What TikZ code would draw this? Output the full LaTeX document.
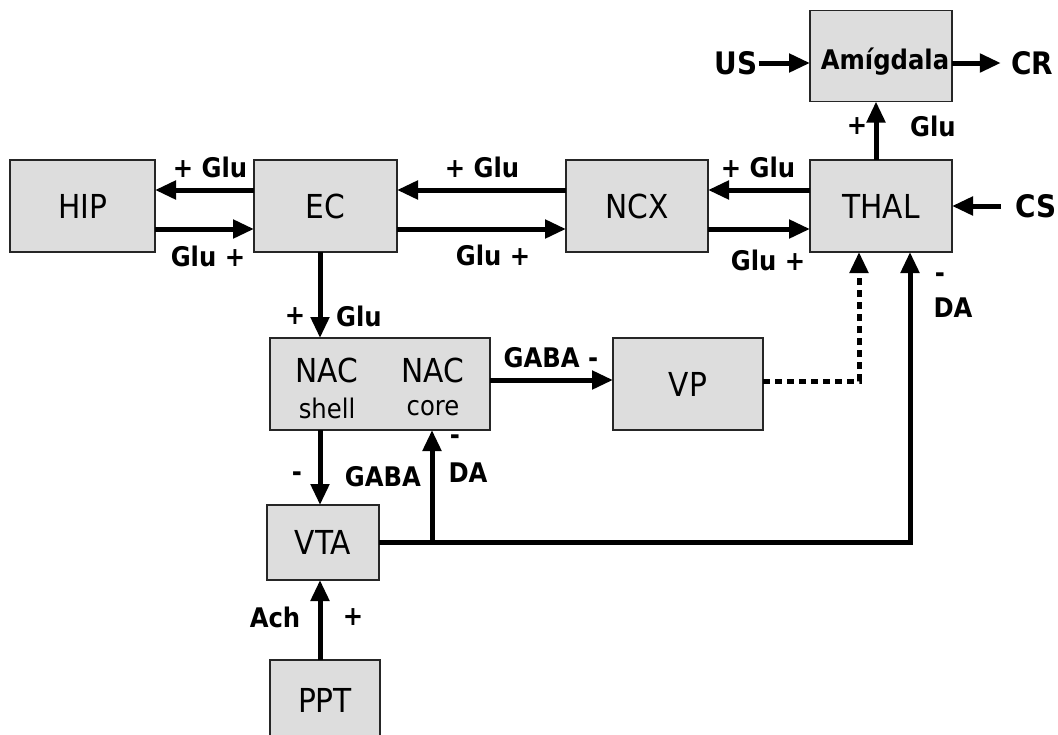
\documentclass[tikz,border=0pt]{standalone}
\usepackage{fontspec}
\setmainfont{DejaVu Sans Condensed}[BoldFont={DejaVu Sans Condensed Bold}]
\usetikzlibrary{arrows.meta}
\definecolor{boxgray}{HTML}{DDDDDD}
\tikzset{
  box/.style={draw=black!85, line width=1.5pt, fill=boxgray, inner sep=0pt, outer sep=0pt,
    font=\fontsize{33}{36}\selectfont, align=center},
  arr/.style={line width=5pt, -{Triangle[length=21pt,width=18pt]}},
  dotarr/.style={line width=5pt, dash pattern=on 7pt off 5pt, -{Triangle[length=21pt,width=18pt]}},
  lbl/.style={font=\fontsize{27}{30}\selectfont\bfseries, inner sep=0pt},
  biglbl/.style={font=\fontsize{31}{34}\selectfont\bfseries, inner sep=0pt}
}
\begin{document}
\begin{tikzpicture}[x=1pt,y=-1pt]
\useasboundingbox (0,0) rectangle (1058,734);
% boxes
\node[box, minimum width=145pt, minimum height=92pt] (hip) at (82.5,206) {HIP};
\node[box, minimum width=143pt, minimum height=92pt] (ec) at (325.5,206) {EC};
\node[box, minimum width=142pt, minimum height=92pt] (ncx) at (637,206) {NCX};
\node[box, minimum width=142pt, minimum height=92pt] (thal) at (881,206) {THAL};
\node[box, minimum width=142pt, minimum height=91pt] (amyg) at (881,56) {};
\node[font=\fontsize{27}{30}\selectfont\bfseries, inner sep=0pt] (amygtxt) at (885,62) {Amígdala};
\node[box, minimum width=220pt, minimum height=92pt] (nac) at (380,384) {};
\node[box, minimum width=150pt, minimum height=92pt] (vp) at (688,384) {VP};
\node[box, minimum width=112pt, minimum height=75pt] (vta) at (323,542.5) {VTA};
\node[box, minimum width=110pt, minimum height=80pt] (ppt) at (325,700) {PPT};
% NAC inner text
\node[font=\fontsize{33}{36}\selectfont, inner sep=0pt] (nacs) at (327,370) {NAC};
\node[font=\fontsize{27}{30}\selectfont, inner sep=0pt] (shell) at (327,408) {shell};
\node[font=\fontsize{33}{36}\selectfont, inner sep=0pt] (nacc) at (433,370) {NAC};
\node[font=\fontsize{27}{30}\selectfont, inner sep=0pt] (core) at (433,408) {core};
% outside labels
\node[biglbl] (us) at (736,63) {US};
\node[biglbl] (cr) at (1032,63) {CR};
\node[biglbl] (cs) at (1036,206) {CS};
% horizontal connectors
\draw[arr] ([yshift=16pt]ec.west) -- ([yshift=16pt]hip.east);
\draw[arr] ([yshift=-23pt]hip.east) -- ([yshift=-23pt]ec.west);
\draw[arr] ([yshift=16pt]ncx.west) -- ([yshift=16pt]ec.east);
\draw[arr] ([yshift=-23pt]ec.east) -- ([yshift=-23pt]ncx.west);
\draw[arr] ([yshift=16pt]thal.west) -- ([yshift=16pt]ncx.east);
\draw[arr] ([yshift=-23pt]ncx.east) -- ([yshift=-23pt]thal.west);
\draw[arr] ([xshift=-5pt]thal.north) -- ([xshift=-5pt]amyg.south);
\draw[arr] ([xshift=1pt]us.east) -- (us.east -| amyg.west);
\draw[arr] (cr.west -| amyg.east) -- ([xshift=-10pt]cr.west);
\draw[arr] ([xshift=-14pt]cs.west) -- (cs.west -| thal.east);
% vertical connectors
\draw[arr] ([xshift=-5.5pt]ec.south) -- ([xshift=-5.5pt]ec.south |- nac.north);
\draw[arr] ([yshift=4pt]nac.east) -- ([yshift=4pt]nac.east -| vp.west);
\draw[arr] ([xshift=-60pt]nac.south) -- ([xshift=-60pt]nac.south |- vta.north);
\draw[arr] ([xshift=-5pt]ppt.north) -- ([xshift=-5pt]ppt.north |- vta.south);
\coordinate (c1) at (910,542);
\coordinate (c2) at (432,542);
\coordinate (c3) at (859,381);
\draw[arr, line join=miter] (vta.east |- c1) -- (c1) -- (c1 |- thal.south);
\draw[arr] (c2) -- (c2 |- nac.south);
\draw[dotarr] (vp.east |- c3) -- (c3) -- (c3 |- thal.south);
% connector labels
\node[lbl] at (210,167) {+ Glu};
\node[lbl] at (208,256) {Glu +};
\node[lbl] at (482,167) {+ Glu};
\node[lbl] at (493,255) {Glu +};
\node[lbl] at (758,167) {+ Glu};
\node[lbl] at (768,260) {Glu +};
\node[lbl] at (857,126) {+};
\node[lbl] at (933,126) {Glu};
\node[lbl] at (940,278) {-};
\node[lbl] at (953,308) {DA};
\node[lbl] at (295,316) {+};
\node[lbl] at (359,316) {Glu};
\node[lbl] at (551,358) {GABA -};
\node[lbl] at (297,477) {-};
\node[lbl] at (383,477) {GABA};
\node[lbl] at (455,440) {-};
\node[lbl] at (468,473) {DA};
\node[lbl] at (275,617) {Ach};
\node[lbl] at (353,617) {+};
\end{tikzpicture}
\end{document}
